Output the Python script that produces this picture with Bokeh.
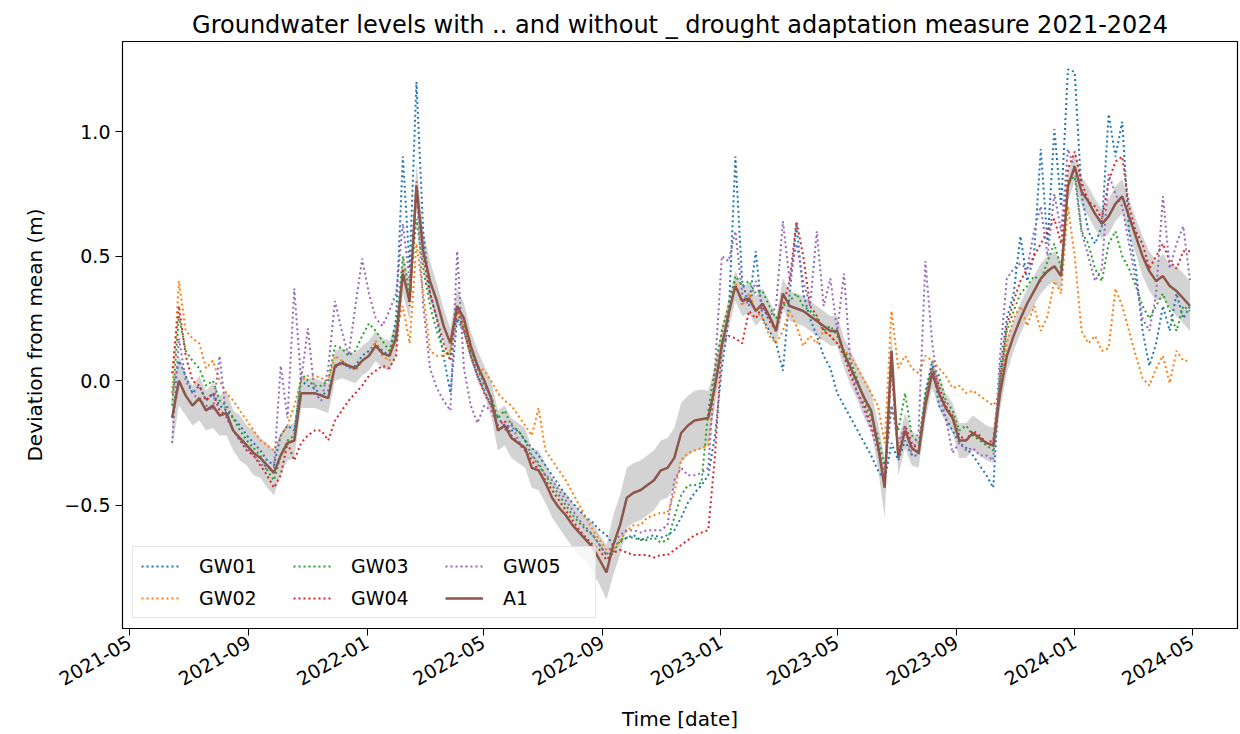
import math
from datetime import datetime

import pandas as pd
from bokeh.embed import file_html
from bokeh.models import (ColumnDataSource, DatetimeTickFormatter, FixedTicker,
                          Legend, LegendItem, Range1d)
from bokeh.plotting import figure
from bokeh.resources import INLINE

# weekly readings, 2021-06-14 .. 2024-04-29
dates = pd.date_range("2021-06-14", periods=151, freq="7D")

a1 = [
    -0.15, 0.00, -0.06, -0.10, -0.07, -0.12, -0.10, -0.14, -0.13, -0.20,
    -0.23, -0.26, -0.29, -0.31, -0.34, -0.37, -0.30, -0.25, -0.24, -0.05,
    -0.05, -0.05, -0.06, -0.07, 0.06, 0.07, 0.06, 0.05, 0.08, 0.10,
    0.14, 0.11, 0.10, 0.17, 0.43, 0.32, 0.78, 0.52, 0.40, 0.32,
    0.22, 0.15, 0.30, 0.25, 0.14, 0.06, 0.00, -0.07, -0.20, -0.18,
    -0.23, -0.25, -0.27, -0.35, -0.36, -0.41, -0.47, -0.51, -0.54, -0.58,
    -0.61, -0.64, -0.67, -0.72, -0.77, -0.66, -0.58, -0.47, -0.45, -0.44,
    -0.42, -0.40, -0.36, -0.35, -0.31, -0.21, -0.18, -0.16, -0.155, -0.15,
    -0.02, 0.14, 0.27, 0.38, 0.32, 0.33, 0.28, 0.31, 0.26, 0.20,
    0.35, 0.30, 0.29, 0.28, 0.26, 0.24, 0.22, 0.20, 0.20, 0.11,
    0.05, -0.01, -0.07, -0.12, -0.26, -0.43, 0.12, -0.31, -0.20, -0.27,
    -0.29, -0.10, 0.03, -0.05, -0.11, -0.15, -0.24, -0.24, -0.21, -0.23,
    -0.25, -0.26, -0.05, 0.10, 0.18, 0.25, 0.31, 0.36, 0.41, 0.44,
    0.46, 0.42, 0.78, 0.86, 0.76, 0.72, 0.67, 0.63, 0.66, 0.71,
    0.74, 0.66, 0.58, 0.50, 0.44, 0.40, 0.42, 0.38, 0.36, 0.33,
    0.30,
]

a1_spread = [
    0.12, 0.10, 0.08, 0.08, 0.09, 0.08, 0.09, 0.08, 0.09, 0.08,
    0.09, 0.08, 0.09, 0.08, 0.09, 0.09, 0.08, 0.07, 0.07, 0.06,
    0.06, 0.06, 0.06, 0.06, 0.06, 0.06, 0.06, 0.06, 0.06, 0.06,
    0.06, 0.06, 0.06, 0.07, 0.08, 0.08, 0.09, 0.08, 0.08, 0.07,
    0.07, 0.06, 0.07, 0.06, 0.06, 0.06, 0.06, 0.07, 0.08, 0.08,
    0.08, 0.08, 0.08, 0.08, 0.08, 0.08, 0.08, 0.08, 0.09, 0.09,
    0.09, 0.09, 0.10, 0.10, 0.11, 0.12, 0.12, 0.12, 0.12, 0.12,
    0.12, 0.12, 0.12, 0.12, 0.12, 0.12, 0.12, 0.12, 0.12, 0.11,
    0.08, 0.07, 0.06, 0.06, 0.06, 0.06, 0.06, 0.06, 0.06, 0.06,
    0.06, 0.06, 0.06, 0.06, 0.06, 0.06, 0.06, 0.06, 0.06, 0.06,
    0.07, 0.07, 0.08, 0.08, 0.09, 0.12, 0.08, 0.07, 0.07, 0.07,
    0.06, 0.06, 0.06, 0.06, 0.06, 0.06, 0.07, 0.07, 0.07, 0.07,
    0.07, 0.07, 0.07, 0.07, 0.06, 0.06, 0.06, 0.06, 0.06, 0.06,
    0.06, 0.06, 0.06, 0.06, 0.06, 0.06, 0.06, 0.06, 0.07, 0.07,
    0.07, 0.07, 0.07, 0.08, 0.08, 0.08, 0.09, 0.09, 0.10, 0.10,
    0.10,
]

gw01 = [
    -0.05, 0.08, 0.02, -0.05, -0.02, -0.08, -0.05, -0.10, -0.12, -0.15,
    -0.18, -0.22, -0.25, -0.28, -0.32, -0.34, -0.22, -0.18, -0.20, 0.00,
    -0.02, -0.03, -0.06, -0.04, 0.05, 0.08, 0.05, 0.06, 0.10, 0.12,
    0.15, 0.12, 0.10, 0.25, 0.90, 0.45, 1.20, 0.60, 0.35, 0.25,
    0.10, -0.05, 0.25, 0.20, 0.10, 0.02, -0.04, -0.10, -0.15, -0.18,
    -0.20, -0.20, -0.24, -0.27, -0.30, -0.34, -0.38, -0.42, -0.46, -0.49,
    -0.52, -0.55, -0.57, -0.60, -0.62, -0.66, -0.65, -0.63, -0.62, -0.64,
    -0.63, -0.62, -0.63, -0.62, -0.60, -0.55, -0.49, -0.45, -0.42, -0.38,
    -0.22, 0.05, 0.25, 0.90, 0.40, 0.30, 0.52, 0.25, 0.20, 0.15,
    0.04, 0.35, 0.63, 0.35, 0.25, 0.18, 0.10, 0.05, -0.05, -0.10,
    -0.15, -0.20, -0.25, -0.30, -0.36, -0.40, -0.25, -0.32, -0.24, -0.30,
    -0.30, -0.05, 0.08, -0.10, -0.15, -0.20, -0.25, -0.27, -0.30, -0.34,
    -0.38, -0.43, 0.05, 0.25, 0.35, 0.58, 0.40, 0.50, 0.93, 0.55,
    1.01, 0.70, 1.25, 1.24, 0.75, 0.60, 0.55, 0.62, 1.07, 0.90,
    1.04, 0.60, 0.45, 0.20, 0.06, 0.15, 0.30, 0.20, 0.35, 0.25,
    0.30,
]

gw02 = [
    -0.05, 0.40, 0.20, 0.17, 0.15, 0.05, 0.08, 0.00, -0.05, -0.08,
    -0.12, -0.16, -0.20, -0.24, -0.26, -0.28, -0.22, -0.18, -0.10, 0.00,
    0.02, 0.02, 0.01, 0.00, 0.10, 0.08, 0.06, 0.04, 0.08, 0.10,
    0.16, 0.10, 0.08, 0.20, 0.30, 0.15, 0.55, 0.35, 0.12, 0.10,
    0.10, 0.12, 0.30, 0.22, 0.12, 0.06, 0.04, 0.00, -0.05, -0.08,
    -0.10, -0.14, -0.18, -0.22, -0.11, -0.28, -0.32, -0.36, -0.40, -0.45,
    -0.50, -0.55, -0.60, -0.64, -0.68, -0.68, -0.64, -0.60, -0.58, -0.58,
    -0.55, -0.54, -0.53, -0.53, -0.45, -0.32, -0.29, -0.28, -0.27, -0.26,
    -0.02, 0.20, 0.30, 0.40, 0.30, 0.35, 0.28, 0.25, 0.18, 0.15,
    0.20, 0.28, 0.22, 0.14, 0.18, 0.15, 0.20, 0.18, 0.15, 0.12,
    0.10, 0.05, 0.00, -0.05, -0.10, -0.25, 0.28, 0.05, 0.10, 0.05,
    0.03, 0.10, 0.08, 0.05, 0.02, -0.03, -0.02, -0.05, -0.04, -0.06,
    -0.08, -0.10, -0.05, 0.15, 0.25, 0.30, 0.22, 0.30, 0.20, 0.26,
    0.40, 0.35, 0.70, 0.50, 0.20, 0.15, 0.18, 0.12, 0.13, 0.37,
    0.30, 0.20, 0.10, 0.01, -0.02, 0.05, 0.10, -0.01, 0.12, 0.08,
    0.08,
]

gw03 = [
    -0.10, 0.26, 0.12, 0.08, 0.05, -0.02, 0.00, -0.08, -0.10, -0.15,
    -0.20, -0.24, -0.27, -0.30, -0.36, -0.40, -0.30, -0.24, -0.22, 0.03,
    0.00, -0.02, -0.02, 0.00, 0.14, 0.13, 0.10, 0.12, 0.18, 0.23,
    0.20, 0.16, 0.12, 0.20, 0.50, 0.35, 0.65, 0.45, 0.30, 0.20,
    0.12, 0.10, 0.30, 0.22, 0.12, 0.05, -0.02, -0.06, -0.15, -0.12,
    -0.18, -0.20, -0.24, -0.30, -0.33, -0.38, -0.42, -0.46, -0.50, -0.54,
    -0.57, -0.60, -0.62, -0.66, -0.70, -0.69, -0.64, -0.63, -0.63, -0.64,
    -0.64, -0.63, -0.65, -0.64, -0.55, -0.46, -0.42, -0.42, -0.41, -0.12,
    0.05, 0.20, 0.30, 0.42, 0.38, 0.40, 0.35, 0.36, 0.30, 0.25,
    0.30, 0.32, 0.35, 0.30, 0.28, 0.25, 0.20, 0.22, 0.18, 0.12,
    0.08, 0.00, -0.08, -0.15, -0.22, -0.35, -0.10, -0.20, -0.05, -0.22,
    -0.25, -0.05, 0.05, 0.02, -0.08, -0.12, -0.20, -0.18, -0.22, -0.24,
    -0.26, -0.28, 0.00, 0.20, 0.28, 0.35, 0.38, 0.42, 0.40, 0.48,
    0.55, 0.45, 0.80, 0.82, 0.60, 0.55, 0.45, 0.40, 0.55, 0.60,
    0.50, 0.45, 0.38, 0.30, 0.25, 0.30, 0.35, 0.28, 0.20, 0.30,
    0.28,
]

gw04 = [
    0.03, 0.30, 0.10, 0.00, -0.02, -0.08, -0.05, -0.12, -0.14, -0.20,
    -0.24, -0.28, -0.30, -0.34, -0.38, -0.43, -0.38, -0.25, -0.32, -0.25,
    -0.22, -0.20, -0.20, -0.24, -0.16, -0.12, -0.08, -0.05, -0.02, 0.02,
    0.04, 0.06, 0.05, 0.10, 0.45, 0.30, 0.80, 0.50, 0.35, 0.25,
    0.15, 0.08, 0.28, 0.20, 0.10, 0.02, -0.05, -0.10, -0.18, -0.16,
    -0.22, -0.25, -0.28, -0.32, -0.36, -0.40, -0.44, -0.48, -0.52, -0.56,
    -0.60, -0.63, -0.66, -0.68, -0.72, -0.69, -0.68, -0.69, -0.70, -0.70,
    -0.70, -0.71, -0.70, -0.70, -0.68, -0.66, -0.64, -0.62, -0.61, -0.60,
    -0.30, 0.15, 0.18, 0.17, 0.15, 0.28, 0.25, 0.30, 0.24, 0.20,
    0.30, 0.40, 0.64, 0.50, 0.30, 0.26, 0.20, 0.18, 0.15, 0.10,
    0.02, -0.05, -0.10, -0.18, -0.25, -0.40, 0.05, -0.30, -0.18, -0.25,
    -0.28, -0.08, 0.05, -0.02, -0.10, -0.14, -0.22, -0.24, -0.20, -0.22,
    -0.25, -0.24, 0.00, 0.22, 0.32, 0.40, 0.45, 0.50, 0.55, 0.60,
    0.65, 0.55, 0.85, 0.92, 0.80, 0.72, 0.70, 0.65, 0.80, 0.88,
    0.90, 0.70, 0.60, 0.55, 0.45, 0.50, 0.55, 0.48, 0.45, 0.52,
    0.52,
]

gw05 = [
    -0.25, 0.17, 0.00, -0.05, -0.08, -0.10, -0.12, 0.10, -0.15, -0.20,
    -0.24, -0.27, -0.30, -0.33, -0.36, -0.35, 0.06, -0.15, 0.37, 0.00,
    0.21, -0.05, -0.08, 0.05, 0.32, 0.20, 0.10, 0.30, 0.49, 0.35,
    0.25, 0.22, 0.28, 0.35, 0.63, 0.40, 0.78, 0.30, 0.05, -0.03,
    -0.08, -0.12, 0.52, 0.05, -0.10, -0.17, -0.10, -0.12, -0.18, -0.20,
    -0.17, -0.24, -0.27, -0.30, -0.34, -0.38, -0.40, -0.44, -0.48, -0.52,
    -0.56, -0.59, -0.62, -0.66, -0.70, -0.65, -0.62, -0.60, -0.60, -0.61,
    -0.60, -0.60, -0.60, -0.58, -0.40, -0.35, -0.38, -0.38, -0.37, -0.35,
    0.05, 0.50, 0.48, 0.60, 0.35, 0.30, 0.40, 0.30, 0.25, 0.30,
    0.64, 0.40, 0.55, 0.40, 0.30, 0.60, 0.30, 0.41, 0.20, 0.43,
    0.05, -0.05, -0.12, -0.20, -0.28, -0.38, -0.10, -0.25, -0.18, -0.30,
    -0.20, 0.48, 0.15, -0.05, -0.15, -0.29, -0.25, -0.28, -0.27, -0.30,
    -0.30, -0.32, 0.10, 0.41, 0.45, 0.47, 0.45, 0.60, 0.70, 0.50,
    0.75, 0.60, 0.93, 0.85, 0.60, 0.50, 0.40, 0.45, 0.83, 0.75,
    0.70, 0.55, 0.40, 0.25, 0.20, 0.35, 0.74, 0.45, 0.55, 0.62,
    0.40,
]

series_names = ["GW01", "GW02", "GW03", "GW04", "GW05"]
series_colors = ["#1f77b4", "#ff7f0e", "#2ca02c", "#d62728", "#9467bd"]

x_tick_dates = ["2021-05-01", "2021-09-01", "2022-01-01", "2022-05-01", "2022-09-01",
                "2023-01-01", "2023-05-01", "2023-09-01", "2024-01-01", "2024-05-01"]
y_ticks = [-0.5, 0, 0.5, 1]
y_tick_labels = ["\u22120.5", "0.0", "0.5", "1.0"]

FONT = "DejaVu Sans"

src = ColumnDataSource(data=dict(
    date=dates, GW01=gw01, GW02=gw02, GW03=gw03, GW04=gw04, GW05=gw05, A1=a1,
    lo=[m - s for m, s in zip(a1, a1_spread)],
    hi=[m + s for m, s in zip(a1, a1_spread)],
))

p = figure(width=1240, height=734, x_axis_type="datetime",
           x_range=Range1d(datetime(2021, 4, 23, 19), datetime(2024, 6, 16, 22)),
           y_range=Range1d(-0.995, 1.362),
           title="Groundwater levels with .. and without _ drought adaptation measure 2021-2024",
           output_backend="svg", toolbar_location=None,
           min_border_left=122, min_border_right=3, min_border_top=41, min_border_bottom=105)

p.title.text_font = FONT
p.title.text_font_size = "24px"
p.title.text_font_style = "normal"
p.title.align = "center"
p.title.text_color = "black"
p.title.standoff = 6

p.grid.visible = False
p.outline_line_color = "black"
p.outline_line_width = 1.2
p.outline_line_alpha = 1.0

band = p.varea(x="date", y1="lo", y2="hi", source=src, fill_color="grey", fill_alpha=0.35)

items = []
for name, col in zip(series_names, series_colors):
    r = p.line(x="date", y=name, source=src, line_color=col, line_width=2,
               line_dash="2 3")
    items.append(LegendItem(label=name, renderers=[r]))

a1_line = p.line(x="date", y="A1", source=src, line_color="#8c564b", line_width=2.5)
items.append(LegendItem(label="A1", renderers=[a1_line]))

tick_ms = [pd.Timestamp(d).value // 10**6 for d in x_tick_dates]
p.xaxis.ticker = FixedTicker(ticks=tick_ms)
p.xaxis.formatter = DatetimeTickFormatter(years="%Y-%m", months="%Y-%m", days="%Y-%m",
                                          hours="%Y-%m")
p.xaxis.major_label_orientation = math.pi / 6
p.xaxis.axis_label = "Time [date]"

p.yaxis.ticker = FixedTicker(ticks=y_ticks)
p.yaxis.major_label_overrides = dict(zip(y_ticks, y_tick_labels))
p.yaxis.axis_label = "Deviation from mean (m)"

for ax in (p.xaxis, p.yaxis):
    ax.minor_tick_line_color = None
    ax.major_tick_out = 7
    ax.major_tick_in = 0
    ax.major_tick_line_color = "black"
    ax.axis_line_color = "black"
    ax.major_label_text_font = FONT
    ax.major_label_text_font_size = "19px"
    ax.major_label_text_color = "black"
    ax.major_label_standoff = 5
    ax.axis_label_text_font = FONT
    ax.axis_label_text_font_size = "20px"
    ax.axis_label_text_font_style = "normal"
    ax.axis_label_text_color = "black"
p.yaxis.axis_label_standoff = 14
p.xaxis.axis_label_standoff = 12

legend = Legend(items=items, location="bottom_left", ncols=3)
legend.label_text_font = FONT
legend.label_text_font_size = "19px"
legend.label_text_color = "black"
legend.glyph_width = 38
legend.glyph_height = 20
legend.label_standoff = 20
legend.label_height = 20
legend.label_width = 84
legend.spacing = 10
legend.padding = 8
legend.margin = 10
legend.border_line_color = "#d0d0d0"
legend.background_fill_alpha = 0.8
p.add_layout(legend)

open("out.html", "w").write(file_html(p, INLINE))
